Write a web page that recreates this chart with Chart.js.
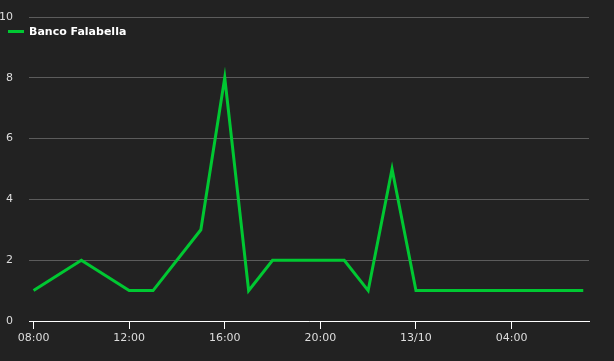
<!DOCTYPE html>
<html>
<head>
<meta charset="utf-8">
<script src="https://cdn.jsdelivr.net/npm/chart.js@4"></script>
<style>
  html, body { margin: 0; padding: 0; background: #222222; }
  #wrap { position: relative; width: 614px; height: 361px; }
  #legend {
    position: absolute; left: 8px; top: 25px;
    font: bold 11px "DejaVu Sans", sans-serif; color: #ffffff;
    display: flex; align-items: center;
  }
  #legend .swatch { width: 16px; height: 3px; background: #00c832; margin-right: 5px; }
</style>
</head>
<body>
<div id="wrap">
  <canvas id="chart" width="614" height="361"></canvas>
  <div id="legend"><span class="swatch"></span><span>Banco Falabella</span></div>
</div>
<script>
// hours counted from 08:00 on 12/10
const seriesName = "Banco Falabella";
const pointTimes = ["08:00", "10:00", "12:00", "13:00", "15:00", "16:00", "17:00", "18:00",
  "19:00", "20:00", "21:00", "22:00", "23:00", "00:00", "01:00", "02:00", "03:00",
  "04:00", "05:00", "06:00", "07:00"];
const pointValues = [1, 2, 1, 1, 3, 8, 1, 2, 2, 2, 2, 1, 5, 1, 1, 1, 1, 1, 1, 1, 1];
const xTickHours = [0, 4, 8, 12, 16, 20];
const xTickLabels = ["08:00", "12:00", "16:00", "20:00", "13/10", "04:00"];
const yTicks = [0, 2, 4, 6, 8, 10];

const startHour = 8;

function hourOffset(t) {
  const h = parseInt(t.split(":")[0], 10);
  return (h - startHour + 24) % 24;
}

const points = pointTimes.map((t, i) => ({ x: hourOffset(t), y: pointValues[i] }));

new Chart(document.getElementById("chart"), {
  type: "line",
  data: {
    datasets: [{
      label: seriesName,
      data: points,
      borderColor: "#00c832",
      borderWidth: 3,
      pointRadius: 0,
      tension: 0,
      fill: false
    }]
  },
  options: {
    responsive: false,
    animation: false,
    layout: { padding: { top: 17, right: 25, left: 0, bottom: 0 } },
    plugins: {
      legend: { display: false },
      tooltip: { enabled: false }
    },
    scales: {
      x: {
        type: "linear",
        min: -0.19,
        max: 23.24,
        afterBuildTicks: s => { s.ticks = xTickHours.map(v => ({ value: v })); },
        afterFit: s => { s.height = 40; s.paddingLeft = 0; s.paddingRight = 0; },
        ticks: {
          color: "#dddddd",
          font: { family: "DejaVu Sans", size: 11 },
          maxRotation: 0,
          callback: v => xTickLabels[xTickHours.indexOf(v)]
        },
        grid: { drawOnChartArea: false, drawTicks: true, tickLength: 8, color: "#ffffff" },
        border: { display: true, color: "#ffffff", width: 1 }
      },
      y: {
        min: 0,
        max: 10,
        afterBuildTicks: s => { s.ticks = yTicks.map(v => ({ value: v })); },
        afterFit: s => { s.width = 29; s.paddingTop = 0; s.paddingBottom = 0; },
        ticks: {
          color: "#dddddd",
          font: { family: "DejaVu Sans", size: 11 },
          padding: 16
        },
        grid: { color: "#5c5c5c", drawTicks: false },
        border: { display: false }
      }
    }
  }
});
</script>
</body>
</html>
